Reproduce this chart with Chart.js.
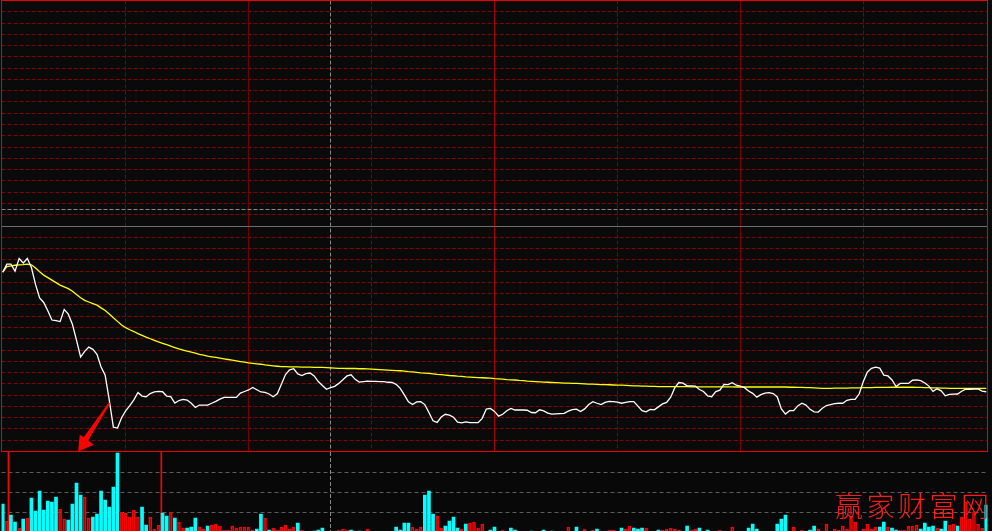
<!DOCTYPE html>
<html>
<head>
<meta charset="utf-8">
<title>分时图</title>
<script src="https://cdn.jsdelivr.net/npm/chart.js@4.4.1/dist/chart.umd.min.js"></script>
<style>
  html, body { margin: 0; padding: 0; background: #080808; overflow: hidden; }
  #wrap { position: relative; width: 992px; height: 531px; }
  #priceChart { position: absolute; left: 0; top: 0; }
  #volChart { position: absolute; left: 0; top: 452px; }
</style>
</head>
<body>
<div id="wrap">
  <canvas id="priceChart" width="992" height="452"></canvas>
  <canvas id="volChart" width="992" height="80"></canvas>
</div>
<script>
// one value per minute, 09:30 .. 15:00 (241 minutes)
// price as % change against previous close
const pricePct = [
  -2.05,-1.69,-1.69,-2.00,-1.44,-1.64,-1.44,-1.84,-2.59,-3.19,
  -3.39,-3.76,-4.17,-4.20,-4.24,-3.70,-3.91,-4.36,-5.06,-5.81,
  -5.56,-5.37,-5.47,-5.69,-6.25,-6.62,-7.72,-8.92,-8.96,-8.50,
  -8.20,-7.97,-7.71,-7.38,-7.54,-7.57,-7.43,-7.36,-7.33,-7.35,
  -7.54,-7.57,-7.85,-7.74,-7.69,-7.72,-7.86,-8.05,-7.94,-7.94,
  -7.94,-7.86,-7.78,-7.68,-7.60,-7.60,-7.60,-7.60,-7.41,-7.34,
  -7.27,-7.16,-7.26,-7.36,-7.38,-7.45,-7.57,-7.44,-7.02,-6.59,
  -6.38,-6.33,-6.56,-6.63,-6.55,-6.52,-6.65,-6.90,-7.07,-7.24,
  -7.17,-7.11,-6.98,-6.82,-6.65,-6.60,-6.80,-6.92,-6.90,-6.88,
  -6.89,-6.89,-6.90,-6.90,-6.93,-6.94,-7.02,-7.20,-7.49,-7.80,
  -7.92,-7.80,-7.79,-7.92,-8.27,-8.64,-8.71,-8.47,-8.35,-8.39,
  -8.48,-8.70,-8.73,-8.69,-8.72,-8.72,-8.72,-8.53,-8.12,-8.09,
  -8.22,-8.43,-8.35,-8.19,-8.09,-8.16,-8.16,-8.16,-8.17,-8.27,
  -8.28,-8.15,-8.20,-8.30,-8.34,-8.33,-8.32,-8.31,-8.21,-8.14,
  -8.12,-8.23,-8.11,-7.92,-7.79,-7.86,-7.92,-7.82,-7.78,-7.79,
  -7.81,-7.86,-7.82,-7.79,-7.79,-7.99,-8.19,-8.24,-8.13,-8.15,
  -8.02,-7.89,-7.82,-7.59,-7.17,-6.94,-6.97,-7.09,-7.09,-7.10,
  -7.25,-7.34,-7.53,-7.57,-7.34,-7.28,-7.02,-7.03,-6.95,-7.06,
  -7.10,-7.17,-7.32,-7.42,-7.59,-7.48,-7.41,-7.39,-7.43,-7.58,
  -8.11,-8.34,-8.19,-8.19,-7.98,-7.86,-7.94,-8.13,-8.24,-8.25,
  -8.08,-7.96,-7.92,-7.88,-7.86,-7.86,-7.73,-7.69,-7.69,-7.44,
  -6.90,-6.47,-6.31,-6.26,-6.30,-6.61,-6.65,-6.83,-7.12,-6.98,
  -6.98,-6.98,-6.84,-6.82,-6.86,-6.96,-7.10,-7.33,-7.22,-7.31,
  -7.53,-7.47,-7.46,-7.45,-7.33,-7.24,-7.24,-7.23,-7.22,-7.32,-7.35
];

// average price line (均价), same units
const avgPct = [
  -2.05,-1.80,-1.77,-1.74,-1.72,-1.71,-1.69,-1.72,-1.86,-2.03,
  -2.18,-2.29,-2.40,-2.51,-2.62,-2.70,-2.78,-2.89,-3.04,-3.18,
  -3.30,-3.37,-3.44,-3.51,-3.63,-3.75,-3.90,-4.07,-4.23,-4.39,
  -4.51,-4.60,-4.68,-4.77,-4.85,-4.93,-5.00,-5.07,-5.14,-5.20,
  -5.26,-5.33,-5.39,-5.45,-5.50,-5.55,-5.59,-5.64,-5.69,-5.73,
  -5.77,-5.80,-5.83,-5.86,-5.89,-5.92,-5.95,-5.98,-6.01,-6.04,
  -6.07,-6.09,-6.11,-6.13,-6.16,-6.18,-6.20,-6.22,-6.24,-6.24,
  -6.25,-6.25,-6.25,-6.26,-6.26,-6.26,-6.27,-6.27,-6.27,-6.28,
  -6.29,-6.30,-6.31,-6.31,-6.32,-6.32,-6.32,-6.33,-6.33,-6.34,
  -6.35,-6.36,-6.37,-6.38,-6.39,-6.40,-6.41,-6.42,-6.44,-6.46,
  -6.47,-6.49,-6.51,-6.52,-6.54,-6.56,-6.58,-6.59,-6.61,-6.63,
  -6.64,-6.66,-6.67,-6.69,-6.70,-6.71,-6.72,-6.73,-6.74,-6.75,
  -6.77,-6.78,-6.79,-6.81,-6.82,-6.83,-6.85,-6.86,-6.88,-6.89,
  -6.90,-6.91,-6.92,-6.93,-6.94,-6.95,-6.96,-6.97,-6.97,-6.98,
  -6.98,-6.99,-7.00,-7.01,-7.01,-7.02,-7.03,-7.03,-7.04,-7.05,
  -7.06,-7.06,-7.07,-7.08,-7.09,-7.09,-7.10,-7.10,-7.11,-7.11,
  -7.12,-7.12,-7.12,-7.12,-7.12,-7.12,-7.12,-7.12,-7.13,-7.13,
  -7.13,-7.13,-7.13,-7.13,-7.13,-7.13,-7.13,-7.13,-7.13,-7.14,
  -7.14,-7.14,-7.14,-7.14,-7.14,-7.14,-7.14,-7.14,-7.14,-7.14,
  -7.14,-7.14,-7.15,-7.15,-7.16,-7.16,-7.17,-7.17,-7.18,-7.19,
  -7.20,-7.20,-7.20,-7.19,-7.19,-7.19,-7.19,-7.18,-7.18,-7.18,
  -7.17,-7.17,-7.17,-7.16,-7.16,-7.16,-7.16,-7.15,-7.15,-7.15,
  -7.15,-7.15,-7.15,-7.16,-7.16,-7.17,-7.17,-7.18,-7.18,-7.19,
  -7.19,-7.20,-7.20,-7.20,-7.20,-7.20,-7.20,-7.20,-7.20,-7.20,-7.20
];

// volume per minute (手)
const volume = [
  14000,5500,8500,5000,2000,6500,7000,17000,10500,20500,
  11000,15500,15000,17500,11500,6500,6000,14000,24500,18500,
  17500,7000,7500,9000,20500,16000,12500,22500,39500,10000,
  9500,7500,11000,7500,12500,3500,7500,1500,3500,9500,
  8000,10000,7000,5000,2000,2000,2500,7000,2500,1500,
  3000,3500,4000,3000,1000,1000,3000,2000,2500,2500,
  2500,1000,1500,9000,7000,1000,2000,1000,2500,3500,
  1500,2500,4500,1000,0,500,500,1000,2000,0,
  500,500,1000,1500,1000,1000,0,500,0,1500,
  0,0,0,0,0,500,2500,1000,4500,4500,
  2500,1500,2500,18500,20500,9000,8000,2000,3000,5500,
  7500,2000,1500,4000,4500,5000,2000,4000,500,1000,
  2500,500,1000,500,2000,1000,0,0,0,500,
  0,0,1000,0,500,0,0,0,2500,500,
  2500,0,1500,0,1000,1500,0,0,1000,1000,
  0,2000,1500,3000,2000,1500,2000,2000,0,0,
  1000,1000,1500,2000,1500,1000,0,3000,1000,1500,
  2000,0,1000,0,0,1000,500,0,2500,0,
  0,0,2000,4000,1500,0,0,0,0,4000,
  6500,8500,0,2500,0,1000,0,1000,3000,1500,
  500,4000,500,1500,1000,3000,1500,8000,5000,500,
  1500,4000,1500,2500,2500,5000,2500,2000,1000,1000,
  1000,3000,3000,3500,1500,4500,2500,3000,2000,1500,
  5500,3500,4000,3000,7500,15000,6500,10000,4000,2000,13500
];

// 1 = up minute (red hollow bar), 0 = down minute (cyan bar)
const volUp = [
  0,1,0,0,1,0,1,0,0,0, 0,0,0,0,1,1,0,0,0,0,
  1,1,0,0,0,0,0,0,0,1, 1,1,1,1,0,0,1,1,1,0,
  0,1,0,1,1,0,0,0,1,1, 0,1,1,1,1,1,1,1,1,1,
  1,1,0,0,1,0,1,1,1,1, 1,1,0,1,1,1,0,0,0,0,
  1,1,1,1,1,0,0,0,0,1, 0,0,0,0,0,1,0,0,0,0,
  1,1,1,0,0,0,1,1,0,0, 0,0,1,0,1,1,1,1,1,0,
  0,1,1,1,0,0,0,0,0,0, 0,0,0,0,0,0,0,0,1,1,
  0,0,1,0,1,0,0,0,1,1, 0,0,1,1,0,0,0,1,0,0,
  0,1,1,1,1,1,0,0,1,1, 0,0,0,0,0,1,1,0,1,0,
  0,0,0,0,0,0,0,0,0,0, 0,0,0,1,0,1,0,0,0,1,
  1,1,1,1,1,1,1,1,1,1, 1,1,1,1,0,0,1,0,0,1,
  1,1,1,1,0,0,0,0,1,0, 0,1,1,0,1,1,1,1,1,1,0
];

// thin red marker lines in the volume panel (minute positions)
const volMarks = [1.4, 38.7];

// crosshair cursor: minute and % value
const cursorMinute = 80;
const cursorPct = 0.74;

// arrow annotation tip (minute, % value)
const arrowMinute = 18.4;
const arrowPct = -10;

const watermark = ['赢', '家', '财', '富', '网'];

const X_MIN = -0.3, X_MAX = 240.3;
const PCT_MAX = 10, PCT_STEP = 0.5;
const VOL_MAX = 40000;

const RED = '#ee0000';
const GRID_RED = '#850000';
const GRAY = '#8a8a8a';

function crisp(v) {
  return Math.floor(v) + 0.5;
}

const priceDecor = {
  id: 'priceDecor',
  beforeDraw(chart) {
    const ctx = chart.ctx;
    ctx.save();
    ctx.fillStyle = '#0a0a0a';
    ctx.fillRect(0, 0, chart.width, chart.height);
    ctx.restore();
  },
  beforeDatasetsDraw(chart) {
    const { ctx, chartArea: a, scales: { x, y } } = chart;
    ctx.save();
    ctx.lineWidth = 1;

    // horizontal grid, every 0.5 %
    const n = Math.round(PCT_MAX / PCT_STEP);
    for (let k = -n + 1; k < n; k++) {
      if (k === 0) continue;
      const py = crisp(y.getPixelForValue(k * PCT_STEP));
      ctx.strokeStyle = GRID_RED;
      ctx.setLineDash([4, 2]);
      ctx.beginPath();
      ctx.moveTo(a.left, py);
      ctx.lineTo(a.right, py);
      ctx.stroke();
    }

    // vertical grid every 30 minutes, solid on the hour
    for (let m = 30; m < 240; m += 30) {
      const px = crisp(x.getPixelForValue(m));
      if (m % 60 === 0) {
        ctx.setLineDash([]);
        ctx.strokeStyle = m === 120 ? '#a80000' : '#7a0000';
      } else {
        ctx.setLineDash([4, 2]);
        ctx.strokeStyle = GRID_RED;
      }
      ctx.beginPath();
      ctx.moveTo(px, a.top);
      ctx.lineTo(px, a.bottom);
      ctx.stroke();
    }

    // previous close
    const y0 = crisp(y.getPixelForValue(0));
    ctx.setLineDash([]);
    ctx.strokeStyle = '#6e6e6e';
    ctx.beginPath();
    ctx.moveTo(a.left, y0);
    ctx.lineTo(a.right, y0);
    ctx.stroke();

    // crosshair
    ctx.setLineDash([4, 2]);
    ctx.strokeStyle = GRAY;
    const cy = crisp(y.getPixelForValue(cursorPct));
    const cx = crisp(x.getPixelForValue(cursorMinute));
    ctx.beginPath();
    ctx.moveTo(a.left, cy);
    ctx.lineTo(a.right, cy);
    ctx.moveTo(cx, a.top);
    ctx.lineTo(cx, a.bottom);
    ctx.stroke();
    ctx.restore();
  },
  afterDatasetsDraw(chart) {
    const { ctx, chartArea: a, scales: { x, y } } = chart;
    ctx.save();
    ctx.strokeStyle = RED;
    ctx.lineWidth = 1;
    ctx.setLineDash([]);
    ctx.strokeRect(a.left, a.top, a.right - a.left, a.bottom - a.top);

    // red arrow pointing at the volume spike
    const tx = x.getPixelForValue(arrowMinute);
    const ty = y.getPixelForValue(arrowPct);
    const shape = [[0, 0], [1.6, -16.7], [5.6, -14.3], [30.6, -49], [32, -48], [10, -11], [15.6, -6.7]];
    ctx.fillStyle = '#ff0000';
    ctx.beginPath();
    shape.forEach(([dx, dy], i) => {
      if (i === 0) ctx.moveTo(tx + dx, ty + dy);
      else ctx.lineTo(tx + dx, ty + dy);
    });
    ctx.closePath();
    ctx.fill();
    ctx.restore();
  }
};

const volDecor = {
  id: 'volDecor',
  beforeDatasetsDraw(chart) {
    const { ctx, chartArea: a, scales: { x, y } } = chart;
    ctx.save();
    ctx.lineWidth = 1;
    ctx.setLineDash([4, 3]);
    ctx.strokeStyle = '#5c5c5c';
    for (let k = 1; k < 4; k++) {
      const py = crisp(y.getPixelForValue(VOL_MAX * k / 4));
      ctx.beginPath();
      ctx.moveTo(a.left, py);
      ctx.lineTo(a.right, py);
      ctx.stroke();
    }
    ctx.setLineDash([4, 2]);
    ctx.strokeStyle = GRAY;
    const cx = crisp(x.getPixelForValue(cursorMinute));
    ctx.beginPath();
    ctx.moveTo(cx, 0);
    ctx.lineTo(cx, chart.height);
    ctx.stroke();
    ctx.restore();
  },
  afterDatasetsDraw(chart) {
    const ctx = chart.ctx;
    ctx.save();
    ctx.fillStyle = '#ff1a1a';
    ctx.font = '300 28px "Noto Sans CJK SC", sans-serif';
    ctx.textAlign = 'center';
    ctx.textBaseline = 'middle';
    watermark.forEach((ch, i) => {
      ctx.fillText(ch, 849 + i * 31.5, 54);
    });
    ctx.restore();
  }
};

const baseOptions = {
  responsive: false,
  animation: false,
  devicePixelRatio: 1,
  events: [],
  plugins: { legend: { display: false }, tooltip: { enabled: false } }
};

new Chart(document.getElementById('priceChart'), {
  type: 'line',
  data: {
    datasets: [
      {
        label: '价格',
        data: pricePct.map((v, i) => ({ x: i, y: v })),
        borderColor: '#ffffff',
        borderWidth: 1.3,
        pointRadius: 0,
        tension: 0
      },
      {
        label: '均价',
        data: avgPct.map((v, i) => ({ x: i, y: v })),
        borderColor: '#ffff00',
        borderWidth: 1.3,
        pointRadius: 0,
        tension: 0
      }
    ]
  },
  options: {
    ...baseOptions,
    layout: { padding: { left: 1.5, right: 4.5, top: 0.5, bottom: 0.5 } },
    scales: {
      x: { type: 'linear', display: false, min: X_MIN, max: X_MAX },
      y: { type: 'linear', display: false, min: -PCT_MAX, max: PCT_MAX }
    }
  },
  plugins: [priceDecor]
});

new Chart(document.getElementById('volChart'), {
  type: 'bar',
  data: {
    datasets: [
      {
        label: '成交量',
        data: volume.map((v, i) => ({ x: i, y: v })),
        backgroundColor: ctx => volUp[ctx.dataIndex] ? 'rgba(0,0,0,0)' : '#00ffff',
        borderColor: ctx => volUp[ctx.dataIndex] ? '#ff0000' : '#00ffff',
        borderWidth: ctx => volUp[ctx.dataIndex] ? 1 : 0,
        borderSkipped: 'start',
        barThickness: 3,
        grouped: false
      },
      {
        label: 'marks',
        data: volMarks.map(m => ({ x: m, y: VOL_MAX })),
        backgroundColor: '#ff0000',
        borderWidth: 0,
        barThickness: 1,
        grouped: false
      }
    ]
  },
  options: {
    ...baseOptions,
    layout: { padding: { left: 1.5, right: 4.5, top: 0, bottom: 0 } },
    scales: {
      x: { type: 'linear', display: false, min: X_MIN, max: X_MAX, offset: false },
      y: { type: 'linear', display: false, min: 0, max: VOL_MAX }
    }
  },
  plugins: [volDecor]
});
</script>
</body>
</html>
